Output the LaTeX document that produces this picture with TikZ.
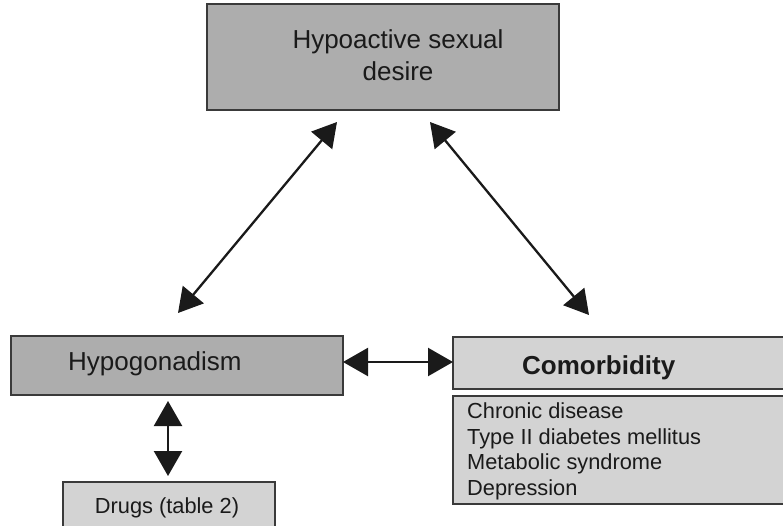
\documentclass[tikz,border=0pt]{standalone}
\usepackage{fontspec}
\setmainfont{Liberation Sans}
\usetikzlibrary{arrows.meta}
\definecolor{boxdark}{HTML}{ADADAD}
\definecolor{boxlight}{HTML}{D3D3D3}
\definecolor{edge}{HTML}{3A3A3A}
\definecolor{ink}{HTML}{1A1A1A}
\begin{document}
\begin{tikzpicture}[x=1pt,y=-1pt,
  box/.style={draw=edge, line width=1.1pt, inner sep=0pt, outer sep=0pt, rectangle},
  big/.style={font=\fontsize{26}{32}\selectfont, text=ink, inner sep=0pt},
  small/.style={font=\fontsize{21.8}{25.7}\selectfont, text=ink, inner sep=0pt},
  link/.style={line width=2.3pt, draw=ink, {Triangle[length=25pt,width=28pt]}-{Triangle[length=25pt,width=28pt]}},
  diag/.style={line width=2.3pt, draw=ink, {Triangle[length=24pt,width=27pt]}-{Triangle[length=24pt,width=27pt]}}]
\useasboundingbox (0,0) rectangle (783,526);

% boxes
\node[box, fill=boxdark,  minimum width=352pt, minimum height=106pt] (desire) at (383,57) {};
\node[box, fill=boxdark,  minimum width=332pt, minimum height=59pt]  (hypo)   at (177,365.5) {};
\node[box, fill=boxlight, minimum width=212pt, minimum height=48pt]  (drugs)  at (169,506) {};
\node[box, fill=boxlight, minimum width=337pt, minimum height=52pt]  (comor)  at (621.5,363) {};
\node[box, fill=boxlight, minimum width=337pt, minimum height=108pt] (list)   at (621.5,450) {};

% texts
\node[big, anchor=base] (t1) at (398,49) {Hypoactive sexual};
\node[big, anchor=base] (t2) at (398,81) {desire};
\node[big, anchor=base west] (t3) at (68,370) {Hypogonadism};
\node[big, anchor=base west, font=\fontsize{26}{32}\selectfont\bfseries] (t4) at (522,374.5) {Comorbidity};
\node[small, anchor=base west] (l1) at (467,418) {Chronic disease};
\node[small, anchor=base west] (l2) at (467,444) {Type II diabetes mellitus};
\node[small, anchor=base west] (l3) at (467,469.5) {Metabolic syndrome};
\node[small, anchor=base west] (l4) at (467,495) {Depression};
\node[small, anchor=base] (t5) at (167,513) {Drugs (table 2)};

% connector end points
\coordinate (a1) at (178,313);
\coordinate (a2) at (337,122);
\coordinate (b1) at (430,122);
\coordinate (b2) at (589,315);
\coordinate (h1) at (hypo.east |- 0,362);
\coordinate (h2) at (comor.west |- 0,362);
\coordinate (v1) at (168,401);
\coordinate (v2) at (168,476);

% connectors
\draw[diag] (a1) -- (a2);
\draw[diag] (b1) -- (b2);
\draw[link] (h1) -- (h2);
\draw[link] (v1) -- (v2);
\end{tikzpicture}
\end{document}
